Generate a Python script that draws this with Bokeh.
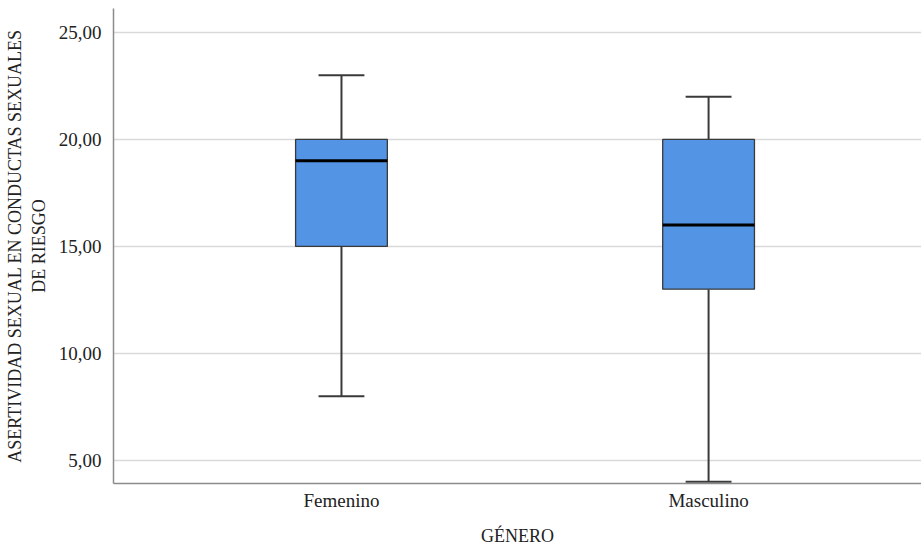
from bokeh.plotting import figure
from bokeh.models import Range1d, FixedTicker, ColumnDataSource, CustomJSTickFormatter
from bokeh.embed import file_html
from bokeh.resources import INLINE

categories = ["Femenino", "Masculino"]
lower_whisker = [8, 4]
q1 = [15, 13]
median = [19, 16]
q3 = [20, 20]
upper_whisker = [23, 22]
y_ticks = [5, 10, 15, 20, 25]
y_tick_labels = ["5,00", "10,00", "15,00", "20,00", "25,00"]

xpos = [i + 1 for i in range(len(categories))]
box_w = 0.25
cap_w = 0.125

src = ColumnDataSource(dict(
    x=xpos, lo=lower_whisker, q1=q1, med=median, q3=q3, hi=upper_whisker,
    x0c=[x - cap_w / 2 for x in xpos], x1c=[x + cap_w / 2 for x in xpos],
    x0m=[x - box_w / 2 for x in xpos], x1m=[x + box_w / 2 for x in xpos],
))

FONT = "Liberation Serif"

p = figure(width=921, height=549, output_backend="svg", toolbar_location=None,
           x_range=Range1d(0.379, 2.58), y_range=Range1d(3.92, 26.12),
           min_border_left=113, min_border_right=0, min_border_top=8, min_border_bottom=66)
p.outline_line_color = None
p.background_fill_color = "white"

# whiskers
p.segment(x0="x", y0="q3", x1="x", y1="hi", source=src, line_color="#3a3a3a", line_width=2)
p.segment(x0="x", y0="lo", x1="x", y1="q1", source=src, line_color="#3a3a3a", line_width=2)
# caps
p.segment(x0="x0c", y0="hi", x1="x1c", y1="hi", source=src, line_color="#3a3a3a", line_width=2)
p.segment(x0="x0c", y0="lo", x1="x1c", y1="lo", source=src, line_color="#3a3a3a", line_width=2)
# boxes
p.vbar(x="x", width=box_w, bottom="q1", top="q3", source=src,
       fill_color="#5394e4", line_color="#3a3a3a", line_width=1.3)
# median
p.segment(x0="x0m", y0="med", x1="x1m", y1="med", source=src, line_color="black", line_width=3)

p.xgrid.grid_line_color = None
p.ygrid.grid_line_color = "#d9d9d9"
p.ygrid.grid_line_width = 1.5
p.ygrid.ticker = FixedTicker(ticks=y_ticks)

p.xaxis.ticker = FixedTicker(ticks=xpos)
p.xaxis.formatter = CustomJSTickFormatter(
    args=dict(pos=xpos, labels=categories),
    code="const i = pos.indexOf(tick); return i >= 0 ? labels[i] : '';")
p.yaxis.ticker = FixedTicker(ticks=y_ticks)
p.yaxis.formatter = CustomJSTickFormatter(
    args=dict(pos=y_ticks, labels=y_tick_labels),
    code="const i = pos.indexOf(tick); return i >= 0 ? labels[i] : '';")

for ax in (p.xaxis[0], p.yaxis[0]):
    ax.axis_line_color = "#8c8c8c"
    ax.axis_line_width = 1.5
    ax.major_tick_line_color = None
    ax.minor_tick_line_color = None
    ax.major_label_text_font = FONT
    ax.major_label_text_font_size = "19px"
    ax.major_label_text_color = "#222222"
    ax.axis_label_text_font = FONT
    ax.axis_label_text_font_size = "18px"
    ax.axis_label_text_font_style = "normal"
    ax.axis_label_text_color = "#222222"

p.xaxis.axis_label = "GÉNERO"
p.xaxis.major_label_standoff = 0
p.xaxis.axis_label_standoff = 12
p.yaxis.axis_label = "ASERTIVIDAD SEXUAL EN CONDUCTAS SEXUALES\nDE RIESGO"
p.yaxis.major_label_standoff = 6
p.yaxis.axis_label_standoff = 7

open("out.html", "w").write(file_html(p, INLINE))
